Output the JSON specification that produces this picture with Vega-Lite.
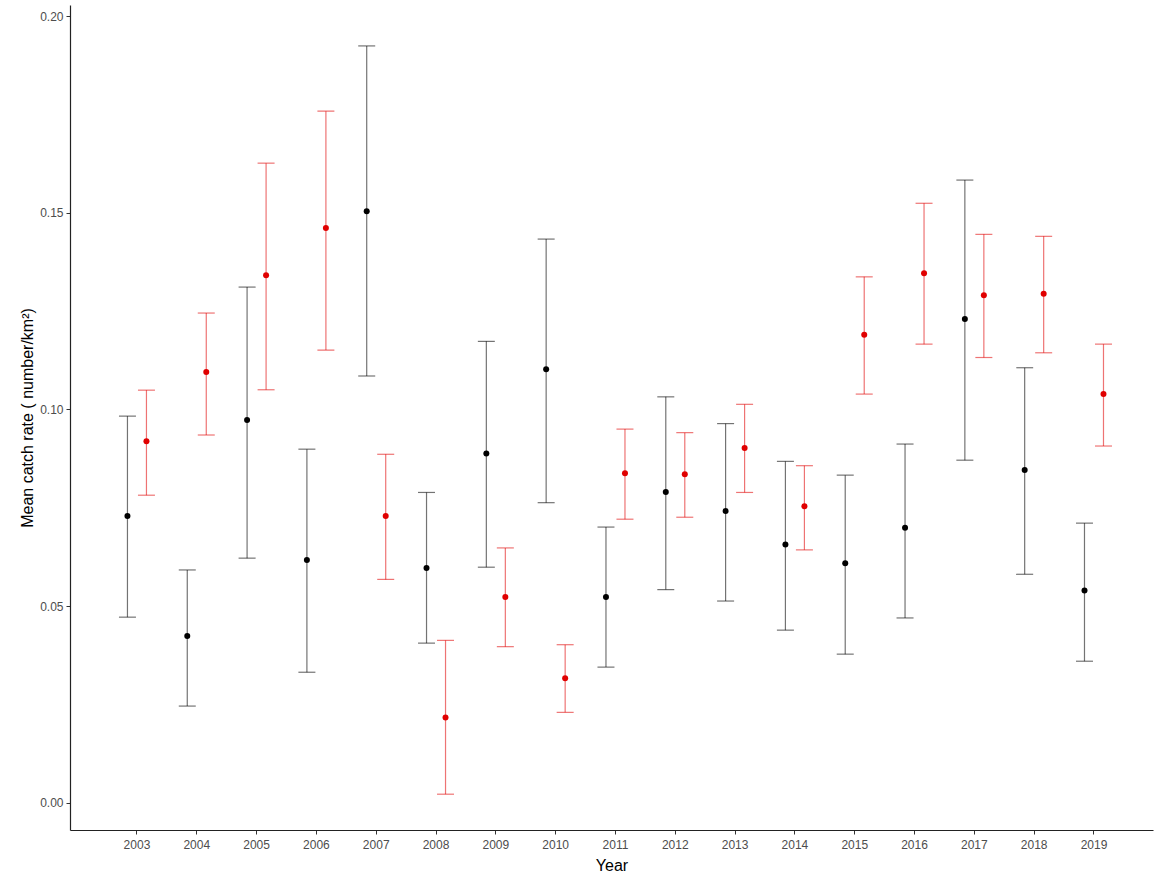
{
  "$schema": "https://vega.github.io/schema/vega-lite/v6.json",
  "width": 1083,
  "height": 825,
  "autosize": {"type": "none"},
  "padding": {"left": 70, "top": 5, "right": 2, "bottom": 48},
  "background": "white",
  "config": {
    "view": {"stroke": null},
    "font": "Liberation Sans",
    "axis": {"grid": false, "domainColor": "#222222", "domainWidth": 1.2, "tickColor": "#333333", "tickSize": 4, "labelColor": "#4d4d4d", "labelFontSize": 12, "titleFontSize": 16, "titleColor": "#000000", "titleFontWeight": "normal", "labelFont": "Liberation Sans", "titleFont": "Liberation Sans"}
  },
  "data": {
    "values": [
      {"year": "2003", "group": "1", "mean": 0.0729, "lower": 0.0472, "upper": 0.0983},
      {"year": "2003", "group": "2", "mean": 0.0919, "lower": 0.0782, "upper": 0.1049},
      {"year": "2004", "group": "1", "mean": 0.0424, "lower": 0.0246, "upper": 0.0592},
      {"year": "2004", "group": "2", "mean": 0.1095, "lower": 0.0935, "upper": 0.1245},
      {"year": "2005", "group": "1", "mean": 0.0973, "lower": 0.0622, "upper": 0.1311},
      {"year": "2005", "group": "2", "mean": 0.1341, "lower": 0.1050, "upper": 0.1626},
      {"year": "2006", "group": "1", "mean": 0.0617, "lower": 0.0332, "upper": 0.0899},
      {"year": "2006", "group": "2", "mean": 0.1461, "lower": 0.1151, "upper": 0.1758},
      {"year": "2007", "group": "1", "mean": 0.1504, "lower": 0.1085, "upper": 0.1924},
      {"year": "2007", "group": "2", "mean": 0.0729, "lower": 0.0568, "upper": 0.0886},
      {"year": "2008", "group": "1", "mean": 0.0597, "lower": 0.0406, "upper": 0.0789},
      {"year": "2008", "group": "2", "mean": 0.0217, "lower": 0.0022, "upper": 0.0413},
      {"year": "2009", "group": "1", "mean": 0.0888, "lower": 0.0599, "upper": 0.1173},
      {"year": "2009", "group": "2", "mean": 0.0523, "lower": 0.0397, "upper": 0.0648},
      {"year": "2010", "group": "1", "mean": 0.1102, "lower": 0.0763, "upper": 0.1433},
      {"year": "2010", "group": "2", "mean": 0.0317, "lower": 0.0230, "upper": 0.0402},
      {"year": "2011", "group": "1", "mean": 0.0523, "lower": 0.0345, "upper": 0.0701},
      {"year": "2011", "group": "2", "mean": 0.0838, "lower": 0.0721, "upper": 0.0950},
      {"year": "2012", "group": "1", "mean": 0.0790, "lower": 0.0542, "upper": 0.1032},
      {"year": "2012", "group": "2", "mean": 0.0835, "lower": 0.0726, "upper": 0.0941},
      {"year": "2013", "group": "1", "mean": 0.0742, "lower": 0.0513, "upper": 0.0964},
      {"year": "2013", "group": "2", "mean": 0.0902, "lower": 0.0789, "upper": 0.1013},
      {"year": "2014", "group": "1", "mean": 0.0657, "lower": 0.0439, "upper": 0.0868},
      {"year": "2014", "group": "2", "mean": 0.0754, "lower": 0.0643, "upper": 0.0857},
      {"year": "2015", "group": "1", "mean": 0.0609, "lower": 0.0378, "upper": 0.0833},
      {"year": "2015", "group": "2", "mean": 0.1190, "lower": 0.1039, "upper": 0.1337},
      {"year": "2016", "group": "1", "mean": 0.0699, "lower": 0.0470, "upper": 0.0912},
      {"year": "2016", "group": "2", "mean": 0.1346, "lower": 0.1166, "upper": 0.1524},
      {"year": "2017", "group": "1", "mean": 0.1230, "lower": 0.0871, "upper": 0.1583},
      {"year": "2017", "group": "2", "mean": 0.1290, "lower": 0.1132, "upper": 0.1445},
      {"year": "2018", "group": "1", "mean": 0.0846, "lower": 0.0581, "upper": 0.1106},
      {"year": "2018", "group": "2", "mean": 0.1294, "lower": 0.1144, "upper": 0.1440},
      {"year": "2019", "group": "1", "mean": 0.0540, "lower": 0.0360, "upper": 0.0711},
      {"year": "2019", "group": "2", "mean": 0.1039, "lower": 0.0907, "upper": 0.1166}
    ]
  },
  "encoding": {
    "x": {
      "field": "year", "type": "ordinal",
      "scale": {"type": "band", "paddingInner": 0, "paddingOuter": 0.553, "align": 0.56},
      "axis": {"title": "Year", "labelAngle": 0, "bandPosition": 0.5, "labelPadding": 5, "titlePadding": 7}
    },
    "xOffset": {"field": "group", "type": "nominal", "scale": {"paddingInner": 0, "paddingOuter": 0.574}},
    "color": {"field": "group", "type": "nominal", "scale": {"domain": ["1", "2"], "range": ["#000000", "#e00000"]}, "legend": null}
  },
  "layer": [
    {
      "mark": {"type": "rule", "strokeWidth": 1.2, "opacity": 0.55},
      "encoding": {
        "y": {"field": "lower", "type": "quantitative", "scale": {"domain": [-0.0069, 0.2028], "nice": false, "zero": false},
          "axis": {"title": "Mean catch rate ( number/km²)", "values": [0, 0.05, 0.1, 0.15, 0.2], "format": ".2f", "labelPadding": 3, "titlePadding": 4}},
        "y2": {"field": "upper"}
      }
    },
    {
      "mark": {"type": "tick", "orient": "horizontal", "size": 17, "thickness": 1.2, "opacity": 0.55},
      "encoding": {"y": {"field": "lower", "type": "quantitative"}}
    },
    {
      "mark": {"type": "tick", "orient": "horizontal", "size": 17, "thickness": 1.2, "opacity": 0.55},
      "encoding": {"y": {"field": "upper", "type": "quantitative"}}
    },
    {
      "mark": {"type": "point", "filled": true, "size": 36, "opacity": 1},
      "encoding": {"y": {"field": "mean", "type": "quantitative"}}
    }
  ]
}
